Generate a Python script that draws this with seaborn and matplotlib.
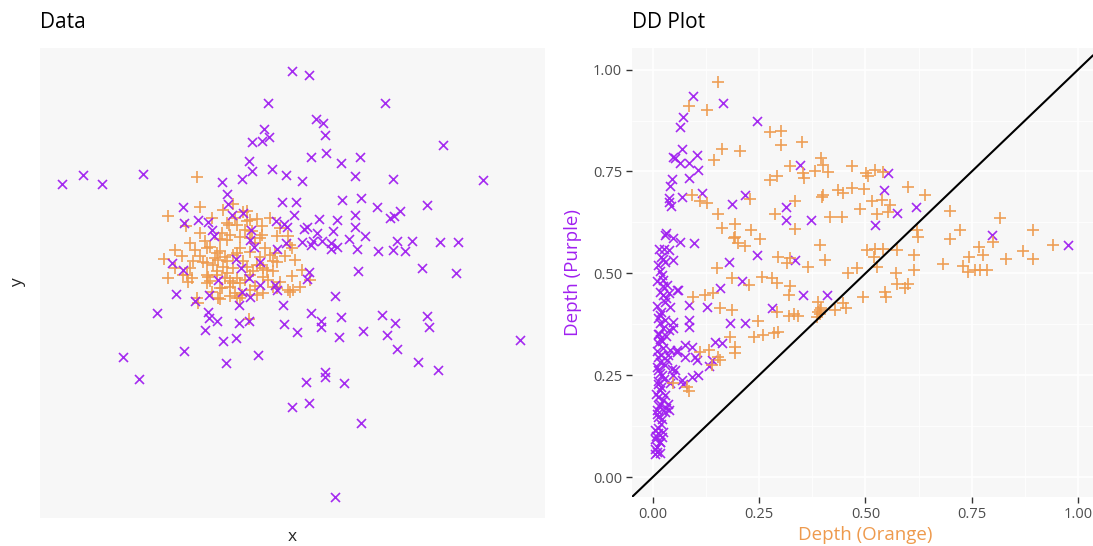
import matplotlib
matplotlib.use('Agg')
import matplotlib.pyplot as plt
import seaborn as sns
import pandas as pd
from matplotlib.ticker import MultipleLocator, FormatStrFormatter

PURPLE = '#A020F0'
ORANGE = '#EE9A4D'

# raw data (arbitrary units)
data_purple = [
    (252, 447), (228, 415), (224, 389), (229, 381), (222, 377), (212, 376), (209, 357),
    (212, 347), (232, 349), (246, 343), (202, 339), (182, 336), (22, 334), (43, 343),
    (62, 334), (103, 344), (187, 324), (188, 314), (242, 316), (256, 316), (143, 311),
    (192, 303), (203, 305), (158, 298), (168, 296), (144, 295), (172, 288), (174, 282),
    (236, 297), (244, 294), (247, 291), (254, 303), (211, 288), (237, 269), (246, 275),
    (214, 271), (132, 255), (196, 259), (143, 248), (201, 250), (178, 238), (209, 240),
    (220, 233), (235, 233), (269, 443), (345, 415), (276, 399), (283, 395), (285, 383),
    (403, 373), (271, 361), (286, 365), (301, 355), (320, 361), (262, 337), (315, 342),
    (353, 339), (443, 338), (302, 318), (321, 320), (337, 311), (387, 313), (279, 299),
    (297, 298), (315, 303), (350, 300), (354, 302), (360, 307), (264, 289), (267, 291),
    (277, 285), (293, 287), (315, 291), (273, 277), (271, 273), (282, 277), (291, 275),
    (291, 269), (297, 271), (309, 279), (325, 282), (317, 269), (338, 267), (357, 277),
    (353, 268), (365, 267), (372, 277), (400, 276), (418, 276), (269, 246), (267, 239),
    (318, 247), (382, 250), (416, 245), (136, 224), (117, 205), (155, 217), (169, 223),
    (168, 206), (169, 200), (177, 197), (165, 188), (199, 213), (210, 221), (202, 226),
    (237, 228), (243, 213), (199, 195), (209, 197), (244, 194), (257, 186), (183, 177),
    (196, 180), (144, 167), (83, 161), (186, 155), (218, 163), (99, 139), (252, 111),
    (295, 222), (271, 205), (281, 197), (281, 191), (301, 201), (299, 181), (323, 187),
    (342, 203), (355, 195), (347, 183), (387, 202), (389, 191), (357, 169), (378, 156),
    (398, 148), (480, 178), (285, 146), (285, 141), (266, 136), (304, 135), (269, 115),
    (321, 95), (295, 21), (210, 278), (262, 276), (220, 256),
]
data_orange = [
    (157, 341), (128, 302), (160, 311), (183, 308), (193, 314), (203, 306), (217, 299),
    (146, 292), (189, 293), (197, 293), (207, 297), (222, 292), (212, 287), (248, 282),
    (250, 273), (237, 282), (187, 278), (165, 277), (155, 268), (167, 270), (180, 267),
    (200, 270), (210, 280), (220, 280), (230, 263), (124, 259), (142, 262), (153, 257),
    (167, 255), (175, 260), (187, 257), (193, 263), (203, 257), (220, 253), (233, 257),
    (143, 243), (152, 240), (167, 243), (177, 247), (187, 245), (197, 240), (213, 247),
    (223, 250), (233, 247), (252, 242), (170, 237), (200, 235), (190, 237), (207, 307),
    (187, 295), (210, 298), (190, 283), (180, 279), (200, 281), (222, 283), (252, 270),
    (170, 271), (177, 265), (185, 261), (197, 265), (210, 266), (220, 261), (237, 256),
    (163, 256), (173, 253), (183, 251), (193, 250), (207, 251), (217, 253), (227, 248),
    (147, 243), (168, 241), (177, 243), (210, 243), (223, 241), (167, 235), (182, 230),
    (190, 231), (195, 225), (202, 223), (223, 225), (237, 230), (248, 228), (260, 231),
    (178, 220), (157, 220), (158, 215), (197, 220), (148, 236), (180, 230), (193, 235),
    (180, 219), (217, 223), (233, 231), (250, 226), (209, 199), (200, 220), (253, 228),
    (135, 268), (150, 275), (160, 285), (172, 300), (182, 285), (195, 300), (205, 288),
    (215, 275), (225, 270), (235, 265), (245, 262), (255, 258), (240, 290), (230, 300),
    (178, 258), (160, 262), (150, 250), (185, 240), (205, 238), (215, 232), (228, 238),
    (240, 236), (262, 248), (270, 238), (172, 226), (190, 222), (210, 228), (135, 250),
    (128, 240),
]

# depth of every point w.r.t. each sample (right panel)
dd_purple = [
    (0.094, 0.935), (0.166, 0.917), (0.071, 0.883), (0.063, 0.858), (0.068, 0.804),
    (0.048, 0.785), (0.052, 0.782), (0.063, 0.771), (0.084, 0.770), (0.105, 0.791),
    (0.106, 0.754), (0.084, 0.733), (0.045, 0.731), (0.041, 0.714), (0.115, 0.698),
    (0.068, 0.688), (0.039, 0.684), (0.037, 0.676), (0.042, 0.665), (0.186, 0.670),
    (0.217, 0.692), (0.031, 0.600), (0.029, 0.594), (0.048, 0.586), (0.063, 0.577),
    (0.097, 0.575), (0.027, 0.559), (0.037, 0.557), (0.024, 0.534), (0.029, 0.528),
    (0.047, 0.532), (0.180, 0.528), (0.245, 0.873), (0.312, 0.662), (0.312, 0.630),
    (0.372, 0.631), (0.245, 0.545), (0.335, 0.533), (0.209, 0.480), (0.158, 0.464),
    (0.058, 0.460), (0.354, 0.446), (0.409, 0.447), (0.346, 0.766), (0.552, 0.745),
    (0.544, 0.704), (0.575, 0.647), (0.619, 0.663), (0.523, 0.618), (0.280, 0.415),
    (0.217, 0.377), (0.797, 0.595), (0.976, 0.570),
    (0.021, 0.496), (0.025, 0.483), (0.033, 0.471), (0.017, 0.455), (0.025, 0.446),
    (0.037, 0.451), (0.056, 0.459), (0.029, 0.430), (0.041, 0.418), (0.084, 0.422),
    (0.127, 0.418), (0.017, 0.397), (0.029, 0.385), (0.017, 0.377), (0.048, 0.381),
    (0.037, 0.360), (0.048, 0.365), (0.084, 0.385), (0.084, 0.369), (0.182, 0.378),
    (0.013, 0.352), (0.017, 0.340), (0.013, 0.328), (0.025, 0.316), (0.041, 0.311),
    (0.056, 0.313), (0.076, 0.324), (0.092, 0.319), (0.076, 0.295), (0.099, 0.295),
    (0.146, 0.332), (0.162, 0.328), (0.139, 0.287), (0.013, 0.295), (0.017, 0.283),
    (0.033, 0.287), (0.045, 0.266), (0.013, 0.262), (0.021, 0.250), (0.048, 0.250),
    (0.068, 0.238), (0.092, 0.246), (0.107, 0.250), (0.131, 0.272), (0.072, 0.229),
    (0.013, 0.229), (0.017, 0.213), (0.029, 0.201), (0.013, 0.197), (0.017, 0.180),
    (0.009, 0.164), (0.029, 0.160), (0.037, 0.164), (0.013, 0.147), (0.021, 0.143),
    (0.005, 0.115), (0.013, 0.107), (0.005, 0.094), (0.017, 0.086), (0.009, 0.074),
    (0.005, 0.057), (0.009, 0.061), (0.021, 0.098), (0.103, 0.287), (0.056, 0.307),
    (0.052, 0.262),
    (0.010, 0.420), (0.020, 0.405), (0.012, 0.390), (0.025, 0.365), (0.015, 0.350),
    (0.022, 0.335), (0.010, 0.310), (0.020, 0.300), (0.028, 0.275), (0.010, 0.270),
    (0.018, 0.255), (0.026, 0.240), (0.012, 0.235), (0.020, 0.220), (0.008, 0.205),
    (0.024, 0.190), (0.015, 0.175), (0.030, 0.170), (0.010, 0.155), (0.020, 0.130),
    (0.012, 0.120), (0.025, 0.110), (0.008, 0.100), (0.016, 0.085), (0.006, 0.070),
    (0.018, 0.060), (0.030, 0.345), (0.035, 0.300), (0.040, 0.230), (0.035, 0.180),
    (0.015, 0.560), (0.020, 0.540), (0.012, 0.520), (0.018, 0.505), (0.025, 0.470),
    (0.030, 0.440), (0.010, 0.480),
]
dd_orange = [
    (0.154, 0.970), (0.084, 0.910), (0.128, 0.902), (0.162, 0.805), (0.144, 0.779),
    (0.205, 0.799), (0.276, 0.847), (0.301, 0.849), (0.301, 0.816), (0.350, 0.822),
    (0.395, 0.783), (0.401, 0.767), (0.323, 0.763), (0.276, 0.730), (0.292, 0.738),
    (0.354, 0.746), (0.356, 0.734), (0.382, 0.752), (0.401, 0.693), (0.092, 0.693),
    (0.111, 0.678), (0.127, 0.672), (0.229, 0.683), (0.154, 0.645), (0.162, 0.611),
    (0.194, 0.621), (0.230, 0.607), (0.190, 0.587), (0.201, 0.574), (0.217, 0.566),
    (0.252, 0.585), (0.288, 0.645), (0.335, 0.677), (0.335, 0.609), (0.295, 0.540),
    (0.315, 0.525), (0.323, 0.537), (0.366, 0.515), (0.393, 0.569), (0.405, 0.532),
    (0.150, 0.513), (0.186, 0.488), (0.225, 0.472), (0.256, 0.492), (0.280, 0.488),
    (0.292, 0.476), (0.323, 0.468), (0.319, 0.447), (0.095, 0.443), (0.123, 0.447),
    (0.142, 0.451), (0.411, 0.749), (0.468, 0.763), (0.502, 0.747), (0.505, 0.739),
    (0.523, 0.754), (0.542, 0.749), (0.397, 0.688), (0.436, 0.704), (0.448, 0.696),
    (0.468, 0.709), (0.497, 0.706), (0.601, 0.711), (0.639, 0.692), (0.417, 0.637),
    (0.444, 0.637), (0.487, 0.659), (0.515, 0.678), (0.538, 0.680), (0.558, 0.668),
    (0.554, 0.651), (0.527, 0.645), (0.621, 0.606), (0.624, 0.588), (0.503, 0.557),
    (0.523, 0.559), (0.542, 0.559), (0.519, 0.541), (0.527, 0.516), (0.574, 0.557),
    (0.613, 0.545), (0.613, 0.508), (0.572, 0.501), (0.480, 0.512), (0.460, 0.501),
    (0.574, 0.475), (0.593, 0.463), (0.601, 0.473), (0.546, 0.455), (0.549, 0.442),
    (0.495, 0.442), (0.448, 0.428), (0.455, 0.416), (0.429, 0.410), (0.389, 0.430),
    (0.392, 0.411), (0.393, 0.401), (0.386, 0.393), (0.292, 0.405), (0.319, 0.395),
    (0.331, 0.400), (0.342, 0.395), (0.248, 0.383), (0.284, 0.354), (0.295, 0.356),
    (0.260, 0.348), (0.237, 0.343), (0.699, 0.654), (0.817, 0.636), (0.723, 0.607),
    (0.699, 0.585), (0.801, 0.578), (0.893, 0.607), (0.766, 0.564), (0.777, 0.544),
    (0.744, 0.539), (0.831, 0.536), (0.871, 0.554), (0.895, 0.536), (0.942, 0.569),
    (0.683, 0.523), (0.730, 0.517), (0.742, 0.503), (0.758, 0.509), (0.770, 0.509),
    (0.785, 0.509), (0.158, 0.414), (0.186, 0.410), (0.182, 0.343), (0.194, 0.319),
    (0.194, 0.305), (0.111, 0.307), (0.131, 0.313), (0.154, 0.295), (0.158, 0.288),
    (0.139, 0.274), (0.048, 0.231), (0.080, 0.221), (0.084, 0.211), (0.194, 0.590),
    (0.388, 0.405), (0.395, 0.415),
]

df_data_p = pd.DataFrame(data_purple, columns=['x', 'y'])
df_data_o = pd.DataFrame(data_orange, columns=['x', 'y'])
df_dd_p = pd.DataFrame(dd_purple, columns=['d_orange', 'd_purple'])
df_dd_o = pd.DataFrame(dd_orange, columns=['d_orange', 'd_purple'])

sns.set_theme(style='white')
plt.rcParams['font.family'] = ['Open Sans', 'DejaVu Sans']

W, H = 1093, 546
fig = plt.figure(figsize=(W / 100, H / 100), dpi=100)
ax1 = fig.add_axes([40 / W, 1 - 518 / H, 505 / W, 470 / H])
ax2 = fig.add_axes([632 / W, 1 - 497 / H, 461 / W, 449 / H])

bg = '#F7F7F7'
p_kw = dict(marker='x', color=PURPLE, s=42, linewidth=1.2, alpha=0.95)
o_kw = dict(marker='+', color=ORANGE, s=80, linewidth=1.2, alpha=0.95)

# --- left: data
ax1.set_facecolor(bg)
sns.scatterplot(data=df_data_o, x='x', y='y', ax=ax1, **o_kw)
sns.scatterplot(data=df_data_p, x='x', y='y', ax=ax1, **p_kw)
ax1.set_xlim(0, 505)
ax1.set_ylim(0, 470)
ax1.set_xticks([])
ax1.set_yticks([])
ax1.set_xlabel('')
ax1.set_ylabel('')
for s in ax1.spines.values():
    s.set_visible(False)

# --- right: DD plot
ax2.set_facecolor(bg)
ax2.xaxis.set_major_locator(MultipleLocator(0.25))
ax2.yaxis.set_major_locator(MultipleLocator(0.25))
ax2.xaxis.set_minor_locator(MultipleLocator(0.125))
ax2.yaxis.set_minor_locator(MultipleLocator(0.125))
ax2.grid(which='major', color='white', lw=1.1)
ax2.grid(which='minor', color='white', lw=0.55)
ax2.set_axisbelow(True)
sns.scatterplot(data=df_dd_p, x='d_orange', y='d_purple', ax=ax2, **p_kw)
sns.scatterplot(data=df_dd_o, x='d_orange', y='d_purple', ax=ax2, **o_kw)
ax2.axline((0, 0), slope=1, color='black', lw=1.5)
ax2.set_xlim(-0.049, 1.035)
ax2.set_ylim(-0.049, 1.053)
ax2.xaxis.set_major_formatter(FormatStrFormatter('%.2f'))
ax2.yaxis.set_major_formatter(FormatStrFormatter('%.2f'))
ax2.tick_params(which='major', length=4, width=1, color='#333333',
                labelsize=10.5, labelcolor='#4D4D4D', pad=3,
                bottom=True, left=True)
ax2.tick_params(which='minor', length=0)
for s in ax2.spines.values():
    s.set_visible(False)
ax2.set_xlabel('')
ax2.set_ylabel('')

# titles and axis labels
fig.text(40 / W, 1 - 22 / H, 'Data', fontsize=15, va='center', ha='left', color='black')
fig.text(632 / W, 1 - 22 / H, 'DD Plot', fontsize=15, va='center', ha='left', color='black')
fig.text(292 / W, 1 - 537 / H, 'x', fontsize=12.5, va='center', ha='center')
fig.text(18 / W, 1 - 283 / H, 'y', fontsize=12.5, va='center', ha='center', rotation=90)
fig.text(865 / W, 1 - 535 / H, 'Depth (Orange)', fontsize=13.5, va='center',
         ha='center', color=ORANGE)
fig.text(573 / W, 1 - 272 / H, 'Depth (Purple)', fontsize=13.5, va='center',
         ha='center', rotation=90, color=PURPLE)

fig.savefig('out.png', dpi=100)
